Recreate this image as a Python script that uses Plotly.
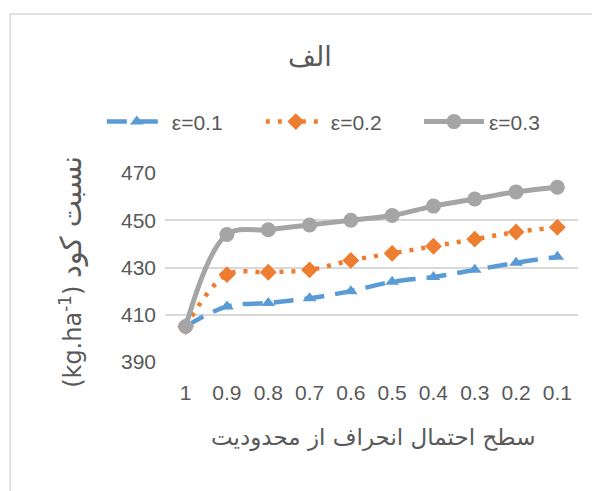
import plotly.graph_objects as go

# سطح احتمال انحراف از محدودیت
levels = ["1", "0.9", "0.8", "0.7", "0.6", "0.5", "0.4", "0.3", "0.2", "0.1"]

eps_01 = [405, 413.5, 415, 417, 420, 424, 426, 429, 432, 434.5]
eps_02 = [405, 427, 428, 429, 433, 436, 439, 442, 445, 447]
eps_03 = [405, 444, 446, 448, 450, 452, 456, 459, 462, 464]

y_ticks = [390, 410, 430, 450, 470]

txt = "#595959"
font_main = "Liberation Sans, DejaVu Sans, sans-serif"

fig = go.Figure()

fig.add_trace(go.Scatter(
    x=levels, y=eps_01, name="ε=0.1", mode="lines+markers", legend="legend",
    line=dict(color="#5B9BD5", width=4.5, dash="20px,11px", shape="spline", smoothing=1),
    marker=dict(symbol="triangle-up", size=12, color="#5B9BD5"),
))
fig.add_trace(go.Scatter(
    x=levels, y=eps_02, name="ε=0.2", mode="lines+markers", legend="legend2",
    line=dict(color="#ED7D31", width=4.5, dash="4px,8px", shape="spline", smoothing=1),
    marker=dict(symbol="diamond", size=13, color="#ED7D31"),
))
fig.add_trace(go.Scatter(
    x=levels, y=eps_03, name="ε=0.3", mode="lines+markers", legend="legend3",
    line=dict(color="#A5A5A5", width=5, shape="spline", smoothing=1),
    marker=dict(symbol="circle", size=15, color="#A5A5A5"),
))

# chart-area border (Excel style), partly cropped by the picture
fig.add_shape(type="rect", xref="paper", yref="paper",
              x0=-0.375, x1=1.2, y0=-1.0, y1=1.841,
              line=dict(color="#D9D9D9", width=1.5), layer="below")

fig.add_annotation(text="الف", xref="paper", yref="paper", x=0.351, y=1.614,
                   xanchor="center", yanchor="middle", showarrow=False,
                   font=dict(size=27, color=txt, family="DejaVu Sans"))

fig.add_annotation(text="سطح احتمال انحراف از محدودیت", xref="paper", yref="paper",
                   x=0.503, y=-0.40, xanchor="center", yanchor="middle", showarrow=False,
                   font=dict(size=23, color=txt, family="DejaVu Sans"))

fig.add_annotation(text="(kg.ha<sup>-1</sup>) <span style='font-size:29px'>نسبت کود</span>",
                   xref="paper", yref="paper", x=-0.228, y=0.476,
                   xanchor="center", yanchor="middle", textangle=-90, showarrow=False,
                   font=dict(size=24, color=txt, family="DejaVu Sans"))

leg = dict(orientation="h", xanchor="left", y=1.27, yanchor="middle",
           font=dict(size=21, color=txt), itemwidth=60, bgcolor="rgba(0,0,0,0)")

fig.update_layout(
    width=600, height=491,
    margin=dict(l=157, r=30, t=165, b=137, autoexpand=False),
    paper_bgcolor="white", plot_bgcolor="white",
    font=dict(family=font_main, color=txt, size=21),
    showlegend=True,
    legend=dict(leg, x=-0.153),
    legend2=dict(leg, x=0.232),
    legend3=dict(leg, x=0.615),
    xaxis=dict(type="category", range=[-0.5, len(levels) - 0.5], showgrid=False,
               showline=False, ticks="", automargin=False, ticklabelstandoff=16,
               tickfont=dict(size=21, color=txt)),
    yaxis=dict(range=[390, 470], tickvals=y_ticks, showgrid=True, gridcolor="#D9D9D9",
               gridwidth=1.5, zeroline=False, showline=False, ticks="",
               automargin=False, ticklabelstandoff=8, tickfont=dict(size=21, color=txt)),
)

fig.write_html("out.html")
